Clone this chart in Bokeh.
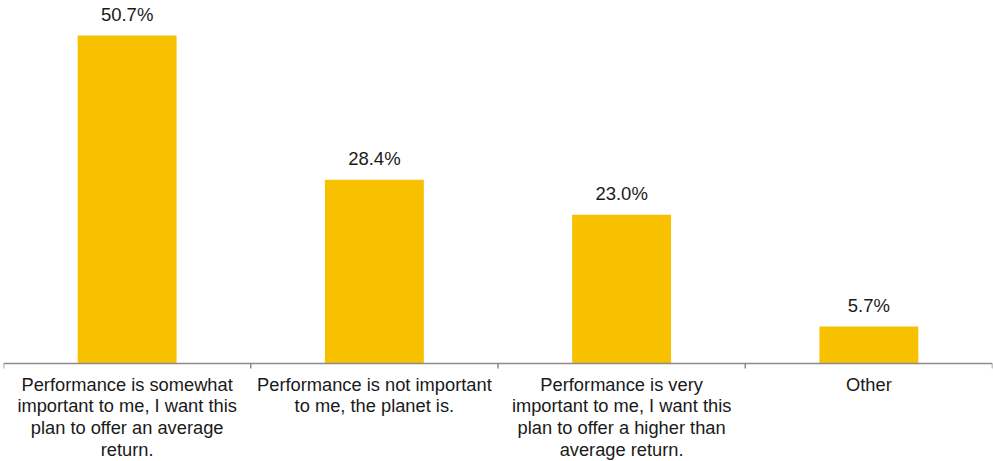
from bokeh.plotting import figure
from bokeh.models import Range1d, ColumnDataSource
from bokeh.core.properties import value
from bokeh.embed import file_html
from bokeh.resources import INLINE

categories = [
    "Performance is somewhat\nimportant to me, I want this\nplan to offer an average\nreturn.",
    "Performance is not important\nto me, the planet is.",
    "Performance is very\nimportant to me, I want this\nplan to offer a higher than\naverage return.",
    "Other",
]
values = [50.7, 28.4, 23.0, 5.7]
labels = ["50.7%", "28.4%", "23.0%", "5.7%"]

n = len(categories)
xs = [i + 0.5 for i in range(n)]
bounds = list(range(n + 1))
src = ColumnDataSource(dict(x=xs, top=values, lab=labels, cat=categories))

FONT = "Liberation Sans"
W, H = 993, 461
AXIS_PX = 363            # pixel row of the category axis
PX_PER_UNIT = 6.47       # vertical scale, pixels per percentage point
y_top = AXIS_PX / PX_PER_UNIT
y_bot = -(H - AXIS_PX) / PX_PER_UNIT
tick_len = 5 / PX_PER_UNIT

p = figure(width=W, height=H, output_backend="svg", toolbar_location=None,
           x_range=Range1d(0, n), y_range=Range1d(y_bot, y_top),
           x_axis_type=None, y_axis_type=None,
           min_border_left=3, min_border_right=1, min_border_top=0, min_border_bottom=0)
p.outline_line_color = None
p.xgrid.visible = False
p.ygrid.visible = False

p.vbar(x="x", top="top", width=0.4, bottom=0, source=src,
       fill_color="#F7C100", line_color=None)

# category axis line and boundary ticks
p.segment(x0=[0], y0=[0], x1=[n], y1=[0], line_color="#8C8C8C", line_width=1.5)
p.segment(x0=bounds, y0=[0] * len(bounds), x1=bounds, y1=[-tick_len] * len(bounds),
          line_color="#8C8C8C", line_width=1.5)

# value labels
p.text(x="x", y="top", text="lab", source=src, text_align="center",
       text_baseline="alphabetic", y_offset=-21,
       text_font=value(FONT), text_font_size="18.5px", text_color="#1a1a1a")

# category labels
p.text(x="x", y=0, text="cat", source=src, text_align="center",
       text_baseline="top", y_offset=10, text_line_height=1.04,
       text_font=value(FONT), text_font_size="18.3px", text_color="#1a1a1a")

open("out.html", "w").write(file_html(p, INLINE))
